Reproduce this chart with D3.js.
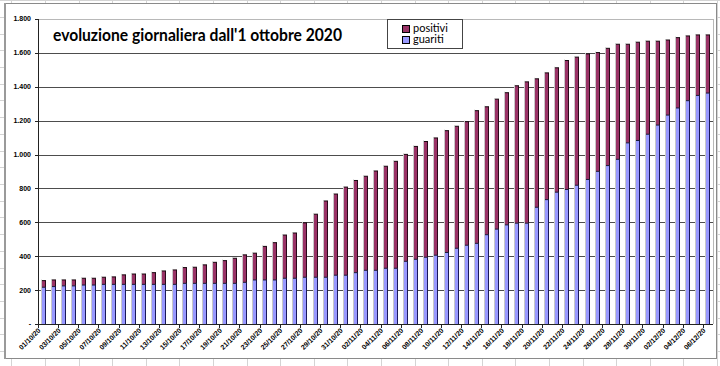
<!DOCTYPE html>
<html><head><meta charset="utf-8">
<script src="https://cdn.jsdelivr.net/npm/d3@7"></script>
<style>html,body{margin:0;padding:0;background:#fff;}svg{display:block;}</style>
</head><body>
<script>
const dates = ["01/10/20","02/10/20","03/10/20","04/10/20","05/10/20","06/10/20","07/10/20","08/10/20","09/10/20","10/10/20",
"11/10/20","12/10/20","13/10/20","14/10/20","15/10/20","16/10/20","17/10/20","18/10/20","19/10/20","20/10/20",
"21/10/20","22/10/20","23/10/20","24/10/20","25/10/20","26/10/20","27/10/20","28/10/20","29/10/20","30/10/20","31/10/20",
"01/11/20","02/11/20","03/11/20","04/11/20","05/11/20","06/11/20","07/11/20","08/11/20","09/11/20","10/11/20",
"11/11/20","12/11/20","13/11/20","14/11/20","15/11/20","16/11/20","17/11/20","18/11/20","19/11/20","20/11/20",
"21/11/20","22/11/20","23/11/20","24/11/20","25/11/20","26/11/20","27/11/20","28/11/20","29/11/20","30/11/20",
"01/12/20","02/12/20","03/12/20","04/12/20","05/12/20","06/12/20"];
const guariti = [217,221,225,225,230,230,234,234,234,234,
234,234,234,234,240,240,240,240,240,240,
246,260,260,260,270,270,276,276,276,288,288,
303,317,317,329,329,370,382,394,406,422,
447,465,476,527,560,585,595,595,689,734,
778,794,819,853,901,935,972,1069,1083,1120,
1174,1233,1275,1318,1349,1363];
const positivi = [39,39,35,35,40,40,42,44,56,61,
61,69,79,85,93,95,109,124,134,148,
162,158,198,220,255,267,321,372,450,479,520,
544,555,586,602,631,631,666,683,692,719,
720,729,783,755,767,780,811,834,758,748,
734,761,756,741,701,692,679,582,580,549,
495,443,415,382,357,343];
const yTicks = [0,200,400,600,800,1000,1200,1400,1600,1800];
const seriesNames = ["positivi","guariti"];
const seriesColors = ["#993366","#9999FF"];
const titleText = "evoluzione giornaliera dall'1 ottobre 2020";

const W = 720, H = 366;
const svg = d3.select("body").append("svg").attr("width", W).attr("height", H);

// spreadsheet background grid
const bg = svg.append("g");
for (let k = 0; k < 22; k++) {
  const x = Math.round(11.4 + 33.6 * k) + 0.5;
  bg.append("line").attr("x1", x).attr("x2", x).attr("y1", 0).attr("y2", H).attr("stroke", "#d4d4d4");
}
for (let k = 0; k < 23; k++) {
  const y = Math.round(0.3 + 16.7 * k) + 0.5;
  bg.append("line").attr("x1", 0).attr("x2", W).attr("y1", y).attr("y2", y).attr("stroke", "#d4d4d4");
}

// chart area
svg.append("rect").attr("x", 5).attr("y", 3.5).attr("width", 711.5).attr("height", 355)
  .attr("fill", "#fff").attr("stroke", "#8a8a8a").attr("stroke-width", 1);
svg.append("line").attr("x1", 5).attr("x2", 5).attr("y1", 3).attr("y2", 359).attr("stroke", "#9a9a9a").attr("stroke-width", 2);

const x = d3.scaleBand().domain(dates).range([38, 713]).padding(0);
const y = d3.scaleLinear().domain([0, 1800]).range([324, 19]);

// plot border (light)
svg.append("line").attr("x1", 38).attr("x2", 713.5).attr("y1", y(1800) + 0.5).attr("y2", y(1800) + 0.5).attr("stroke", "#b8b8b8");
svg.append("line").attr("x1", 713.5).attr("x2", 713.5).attr("y1", y(1800)).attr("y2", y(0)).attr("stroke", "#b8b8b8");

// gridlines
svg.append("g").selectAll("line").data(yTicks.filter(d => d > 0 && d < 1800)).join("line")
  .attr("x1", 38).attr("x2", 713).attr("y1", d => Math.round(y(d)) + 0.5).attr("y2", d => Math.round(y(d)) + 0.5)
  .attr("stroke", "#4d4d4d").attr("stroke-width", 1);

// bars
const bars = svg.append("g");
const fillW = 3;
dates.forEach((d, i) => {
  const cx = x(d) + x.bandwidth() / 2;
  const x0 = Math.round(cx - fillW / 2);
  const g0 = y(0), g1 = y(guariti[i]), p1 = y(guariti[i] + positivi[i]);
  bars.append("rect").attr("x", x0 - 1).attr("y", p1 - 1).attr("width", 1).attr("height", g0 - p1 + 1).attr("fill", "#c8c8c8");
  bars.append("rect").attr("x", x0).attr("y", g1).attr("width", fillW).attr("height", g0 - g1).attr("fill", seriesColors[1]);
  bars.append("rect").attr("x", x0).attr("y", p1).attr("width", fillW).attr("height", g1 - p1).attr("fill", seriesColors[0]);
  bars.append("rect").attr("x", x0 + fillW).attr("y", g1).attr("width", 1).attr("height", g0 - g1).attr("fill", "#1a1a5a");
  bars.append("rect").attr("x", x0 + fillW).attr("y", p1).attr("width", 1).attr("height", g1 - p1).attr("fill", "#2a0a1a");
  bars.append("rect").attr("x", x0).attr("y", g1 - 0.5).attr("width", fillW + 1).attr("height", 1).attr("fill", "#1a1a3a");
  bars.append("rect").attr("x", x0).attr("y", p1 - 0.5).attr("width", fillW + 1).attr("height", 1).attr("fill", "#1a0a10");
});

// axes
const loc = d3.formatLocale({decimal: ",", thousands: ".", grouping: [3], currency: ["€", ""]});
const fmt = loc.format(",");
svg.append("line").attr("x1", 38.5).attr("x2", 38.5).attr("y1", y(1800)).attr("y2", y(0) + 0.5).attr("stroke", "#222");
svg.append("line").attr("x1", 38).attr("x2", 713).attr("y1", y(0) + 0.5).attr("y2", y(0) + 0.5).attr("stroke", "#222");
const yAx = svg.append("g");
yAx.selectAll("line").data(yTicks).join("line")
  .attr("x1", 35).attr("x2", 38.5).attr("y1", d => Math.round(y(d)) + 0.5).attr("y2", d => Math.round(y(d)) + 0.5).attr("stroke", "#222");
yAx.selectAll("text").data(yTicks).join("text")
  .attr("x", 31).attr("y", d => y(d)).attr("dy", "0.35em").attr("text-anchor", "end")
  .attr("font-family", "Liberation Sans, Arial, sans-serif").attr("font-weight", "bold").attr("font-size", 7)
  .attr("fill", "#000").text(d => d === 0 ? "-" : fmt(d));

const xAx = svg.append("g");
const tickDates = dates.filter((d, i) => i % 2 === 0);
xAx.selectAll("line").data(tickDates).join("line")
  .attr("x1", d => Math.round(x(d)) + 0.5).attr("x2", d => Math.round(x(d)) + 0.5)
  .attr("y1", y(0)).attr("y2", y(0) + 4).attr("stroke", "#222");
xAx.selectAll("text").data(tickDates).join("text")
  .attr("transform", d => `translate(${x(d) + x.bandwidth() / 2 - 2},${331}) rotate(-45)`)
  .attr("text-anchor", "end")
  .attr("font-family", "Liberation Sans, Arial, sans-serif").attr("font-weight", "bold").attr("font-size", 7)
  .attr("fill", "#000").text(d => d);

// title
svg.append("text").attr("x", 53).attr("y", 41).attr("font-family", "Lato, Open Sans, sans-serif")
  .attr("font-weight", "bold").attr("font-size", 16.5).attr("fill", "#000")
  .attr("textLength", 289).attr("lengthAdjust", "spacingAndGlyphs").text(titleText);

// legend
const lg = svg.append("g");
lg.append("rect").attr("x", 387.5).attr("y", 19.5).attr("width", 75).attr("height", 29)
  .attr("fill", "#fff").attr("stroke", "#444");
seriesNames.forEach((s, i) => {
  lg.append("rect").attr("x", 402.5).attr("y", 25.5 + i * 11).attr("width", 7).attr("height", 7)
    .attr("fill", seriesColors[i]).attr("stroke", "#000").attr("stroke-width", 1);
  lg.append("text").attr("x", 413).attr("y", 31.5 + i * 11.5).attr("font-family", "Lato, Open Sans, sans-serif")
    .attr("font-size", 11).attr("fill", "#000").text(s);
});
</script>
</body></html>
